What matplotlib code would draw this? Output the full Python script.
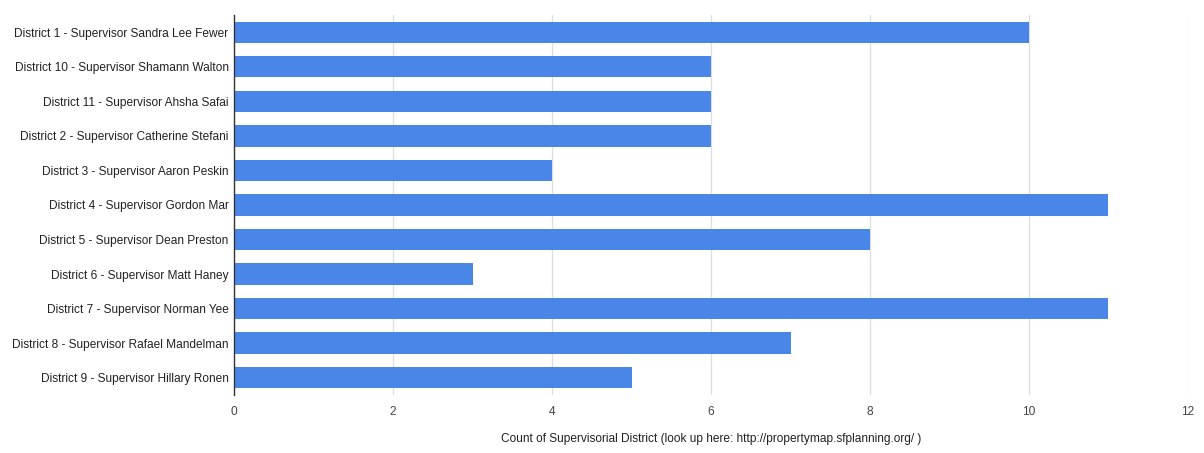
import matplotlib
matplotlib.use("Agg")
import matplotlib.pyplot as plt

plt.rcParams['font.family'] = ['Liberation Sans', 'DejaVu Sans']

districts = [
    "District 1 - Supervisor Sandra Lee Fewer",
    "District 10 - Supervisor Shamann Walton",
    "District 11 - Supervisor Ahsha Safai",
    "District 2 - Supervisor Catherine Stefani",
    "District 3 - Supervisor Aaron Peskin",
    "District 4 - Supervisor Gordon Mar",
    "District 5 - Supervisor Dean Preston",
    "District 6 - Supervisor Matt Haney",
    "District 7 - Supervisor Norman Yee",
    "District 8 - Supervisor Rafael Mandelman",
    "District 9 - Supervisor Hillary Ronen",
]
counts = [10, 6, 6, 6, 4, 11, 8, 3, 11, 7, 5]
xticks = [0, 2, 4, 6, 8, 10, 12]

fig = plt.figure(figsize=(12.04, 4.53), dpi=100)
ax = fig.add_axes([0.1944, 0.128, 0.7923, 0.839])

y = list(range(len(districts)))
ax.barh(y, counts, height=0.62, color='#4a86e8', zorder=3)
ax.set_yticks(y)
ax.set_yticklabels(districts, fontsize=8.6, color='#222222')
ax.set_ylim(len(districts) - 0.5, -0.5)

ax.set_xlim(0, 12)
ax.set_xticks(xticks)
ax.set_xticklabels([str(v) for v in xticks], fontsize=8.6, color='#444444')
ax.grid(axis='x', color='#dddddd', linewidth=0.9, zorder=0)
ax.tick_params(axis='y', length=0, pad=4)
ax.tick_params(axis='x', length=0, pad=8)

for s in ['top', 'right', 'bottom']:
    ax.spines[s].set_visible(False)
ax.spines['left'].set_color('#333333')
ax.spines['left'].set_linewidth(1.0)
ax.spines['left'].set_zorder(4)

ax.set_xlabel("Count of Supervisorial District (look up here: http://propertymap.sfplanning.org/ )",
              fontsize=8.6, color='#222222', labelpad=11)

fig.savefig("out.png", dpi=100)
